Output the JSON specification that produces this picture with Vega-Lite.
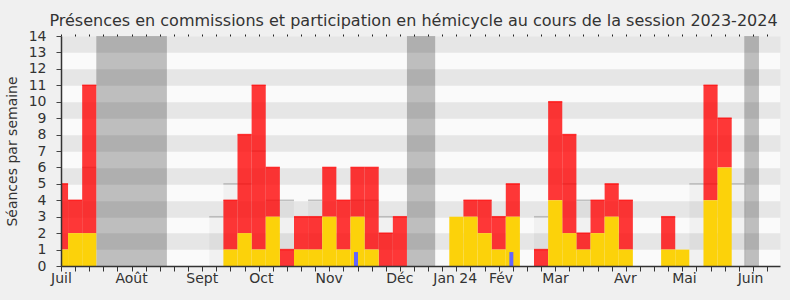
{
  "$schema": "https://vega.github.io/schema/vega-lite/v6.json",
  "width": 719,
  "height": 230,
  "autosize": {"type": "none"},
  "padding": {"left": 61, "top": 36, "right": 10, "bottom": 34},
  "background": "#f0f0f0",
  "config": {
    "view": {"fill": "#fafafa", "stroke": null},
    "font": "DejaVu Sans",
    "scale": {"continuousPadding": 0}
  },
  "title": {
    "text": "Présences en commissions et participation en hémicycle au cours de la session 2023-2024",
    "fontSize": 16,
    "fontWeight": "normal",
    "font": "DejaVu Sans",
    "color": "#333333",
    "anchor": "middle",
    "frame": "group",
    "dx": -7,
    "offset": 0
  },
  "datasets": {
    "semaines": [
      {"semaine": 0, "total": 5, "hemicycle": 1},
      {"semaine": 1, "total": 4, "hemicycle": 2},
      {"semaine": 2, "total": 11, "hemicycle": 2, "mediane": 6},
      {"semaine": 11, "total": 0, "hemicycle": 0, "mediane": 3},
      {"semaine": 12, "total": 4, "hemicycle": 1, "mediane": 5},
      {"semaine": 13, "total": 8, "hemicycle": 2, "mediane": 5},
      {"semaine": 14, "total": 11, "hemicycle": 1, "mediane": 7},
      {"semaine": 15, "total": 6, "hemicycle": 3, "mediane": 4},
      {"semaine": 16, "total": 1, "hemicycle": 0, "mediane": 4},
      {"semaine": 17, "total": 3, "hemicycle": 1},
      {"semaine": 18, "total": 3, "hemicycle": 1, "mediane": 4},
      {"semaine": 19, "total": 6, "hemicycle": 3},
      {"semaine": 20, "total": 4, "hemicycle": 1},
      {"semaine": 21, "total": 6, "hemicycle": 3, "question": 0.85, "mediane": 4},
      {"semaine": 22, "total": 6, "hemicycle": 1, "mediane": 4},
      {"semaine": 23, "total": 2, "hemicycle": 0, "mediane": 3},
      {"semaine": 24, "total": 3, "hemicycle": 0},
      {"semaine": 28, "total": 3, "hemicycle": 3},
      {"semaine": 29, "total": 4, "hemicycle": 3},
      {"semaine": 30, "total": 4, "hemicycle": 2},
      {"semaine": 31, "total": 3, "hemicycle": 1},
      {"semaine": 32, "total": 5, "hemicycle": 3, "question": 0.85},
      {"semaine": 34, "total": 1, "hemicycle": 0, "mediane": 3},
      {"semaine": 35, "total": 10, "hemicycle": 4},
      {"semaine": 36, "total": 8, "hemicycle": 2, "mediane": 5},
      {"semaine": 37, "total": 2, "hemicycle": 1, "mediane": 4},
      {"semaine": 38, "total": 4, "hemicycle": 2},
      {"semaine": 39, "total": 5, "hemicycle": 3},
      {"semaine": 40, "total": 4, "hemicycle": 1},
      {"semaine": 43, "total": 3, "hemicycle": 1},
      {"semaine": 44, "total": 1, "hemicycle": 1},
      {"semaine": 45, "total": 0, "hemicycle": 0, "mediane": 5},
      {"semaine": 46, "total": 11, "hemicycle": 4, "mediane": 5},
      {"semaine": 47, "total": 9, "hemicycle": 6, "mediane": 5},
      {"semaine": 48, "total": 0, "hemicycle": 0, "mediane": 5}
    ],
    "vacances": [
      {"debut": 2.5, "fin": 7.5},
      {"debut": 24.5, "fin": 26.5},
      {"debut": 48.39, "fin": 49.43}
    ]
  },
  "resolve": {"axis": {"x": "independent", "y": "independent"}},
  "layer": [
    {
      "data": {"name": "vacances"},
      "mark": {"type": "rect", "color": "#000000", "opacity": 0.24},
      "encoding": {
        "x": {
          "field": "debut",
          "type": "quantitative",
          "scale": {"domain": [0, 50.92], "nice": false, "zero": false, "padding": 0},
          "axis": {
            "orient": "bottom",
            "title": null,
            "values": [0,1,2,3,4,5,6,7,8,9,10,11,12,13,14,15,16,17,18,19,20,21,22,23,24,25,26,27,28,29,30,31,32,33,34,35,36,37,38,39,40,41,42,43,44,45,46,47,48,49,50,4.96,9.97,14.16,18.96,23.96,27.88,31.13,34.99,39.94,44.12,48.8],
            "labelExpr": "datum.value === 0 ? 'Juil' : datum.value === 4.96 ? 'Août' : datum.value === 9.97 ? 'Sept' : datum.value === 14.16 ? 'Oct' : datum.value === 18.96 ? 'Nov' : datum.value === 23.96 ? 'Déc' : datum.value === 27.88 ? 'Jan 24' : datum.value === 31.13 ? 'Fév' : datum.value === 34.99 ? 'Mar' : datum.value === 39.94 ? 'Avr' : datum.value === 44.12 ? 'Mai' : datum.value === 48.8 ? 'Juin' : ''",
            "labelOverlap": false,
            "labelFlush": false,
            "labelBound": false,
            "labelFontSize": 14,
            "labelFont": "DejaVu Sans",
            "labelColor": "#333333",
            "labelPadding": 0,
            "tickSize": 5,
            "tickColor": "#333333",
            "tickOpacity": {"condition": {"test": "datum.value % 1 !== 0", "value": 0}, "value": 1},
            "domainColor": "#333333",
            "domainWidth": 1.5,
            "grid": false,
            "zindex": 1
          }
        },
        "x2": {"field": "fin"}
      }
    },
    {
      "data": {"name": "semaines"},
      "mark": {"type": "bar", "width": 14.12, "color": "#000000", "opacity": 0.035, "clip": true},
      "encoding": {
        "x": {
          "field": "semaine",
          "type": "quantitative",
          "scale": {"domain": [0, 50.92], "nice": false, "zero": false, "padding": 0},
          "axis": {
            "orient": "top",
            "title": null,
            "values": [0,1,2,3,4,5,6,7,8,9,10,11,12,13,14,15,16,17,18,19,20,21,22,23,24,25,26,27,28,29,30,31,32,33,34,35,36,37,38,39,40,41,42,43,44,45,46,47,48,49,50],
            "labels": false,
            "domain": false,
            "tickSize": 2,
            "tickColor": "#222222",
            "grid": false
          }
        },
        "y": {
          "field": "mediane",
          "type": "quantitative",
          "scale": {"domain": [0, 14], "nice": false, "padding": 0},
          "axis": {
            "orient": "right",
            "title": null,
            "values": [1.5, 3.5, 5.5, 7.5, 9.5, 11.5, 13.5],
            "labels": false,
            "ticks": false,
            "domain": false,
            "grid": true,
            "gridWidth": 16.43,
            "gridColor": "#e6e6e6",
            "gridOpacity": 1,
            "zindex": 0
          }
        }
      }
    },
    {
      "data": {"name": "semaines"},
      "mark": {"type": "tick", "orient": "horizontal", "size": 14.12, "thickness": 1.5, "color": "#aaaaaa", "clip": true},
      "encoding": {
        "x": {"field": "semaine", "type": "quantitative", "scale": {"domain": [0, 50.92], "nice": false, "zero": false, "padding": 0}, "axis": null},
        "y": {"field": "mediane", "type": "quantitative", "scale": {"domain": [0, 14], "nice": false, "padding": 0}, "axis": null}
      }
    },
    {
      "data": {"name": "semaines"},
      "transform": [{"filter": "datum.total > datum.hemicycle"}],
      "mark": {"type": "bar", "width": 14.12, "color": "#ff0000", "opacity": 0.78, "clip": true},
      "encoding": {
        "x": {"field": "semaine", "type": "quantitative", "scale": {"domain": [0, 50.92], "nice": false, "zero": false, "padding": 0}, "axis": null},
        "y": {
          "field": "total",
          "type": "quantitative",
          "scale": {"domain": [0, 14], "nice": false, "padding": 0},
          "axis": {
            "orient": "left",
            "title": "Séances par semaine",
            "titleFont": "DejaVu Sans",
            "titleFontSize": 14,
            "titleFontWeight": "normal",
            "titleColor": "#333333",
            "titlePadding": 9,
            "values": [0,1,2,3,4,5,6,7,8,9,10,11,12,13,14],
            "labelFont": "DejaVu Sans",
            "labelFontSize": 14,
            "labelColor": "#333333",
            "labelPadding": 10,
            "tickSize": 5,
            "tickColor": "#444444",
            "domainColor": "#333333",
            "domainWidth": 1.5,
            "grid": false,
            "zindex": 1
          }
        },
        "y2": {"field": "hemicycle"}
      }
    },
    {
      "data": {"name": "semaines"},
      "transform": [{"filter": "datum.total > datum.hemicycle"}],
      "mark": {"type": "tick", "orient": "horizontal", "size": 14.12, "thickness": 1.5, "color": "#ff0000", "clip": true},
      "encoding": {
        "x": {"field": "semaine", "type": "quantitative", "scale": {"domain": [0, 50.92], "nice": false, "zero": false, "padding": 0}, "axis": null},
        "y": {"field": "total", "type": "quantitative", "scale": {"domain": [0, 14], "nice": false, "padding": 0}, "axis": null}
      }
    },
    {
      "data": {"name": "semaines"},
      "transform": [{"filter": "datum.hemicycle > 0"}],
      "mark": {"type": "bar", "width": 14.12, "color": "#fcd20a", "clip": true},
      "encoding": {
        "x": {"field": "semaine", "type": "quantitative", "scale": {"domain": [0, 50.92], "nice": false, "zero": false, "padding": 0}, "axis": null},
        "y": {"field": "hemicycle", "type": "quantitative", "scale": {"domain": [0, 14], "nice": false, "padding": 0}, "axis": null}
      }
    },
    {
      "data": {"name": "semaines"},
      "transform": [{"filter": "datum.question > 0"}],
      "mark": {"type": "bar", "width": 4, "xOffset": -1.5, "color": "#6464ff", "clip": true},
      "encoding": {
        "x": {"field": "semaine", "type": "quantitative", "scale": {"domain": [0, 50.92], "nice": false, "zero": false, "padding": 0}, "axis": null},
        "y": {"field": "question", "type": "quantitative", "scale": {"domain": [0, 14], "nice": false, "padding": 0}, "axis": null}
      }
    }
  ]
}
